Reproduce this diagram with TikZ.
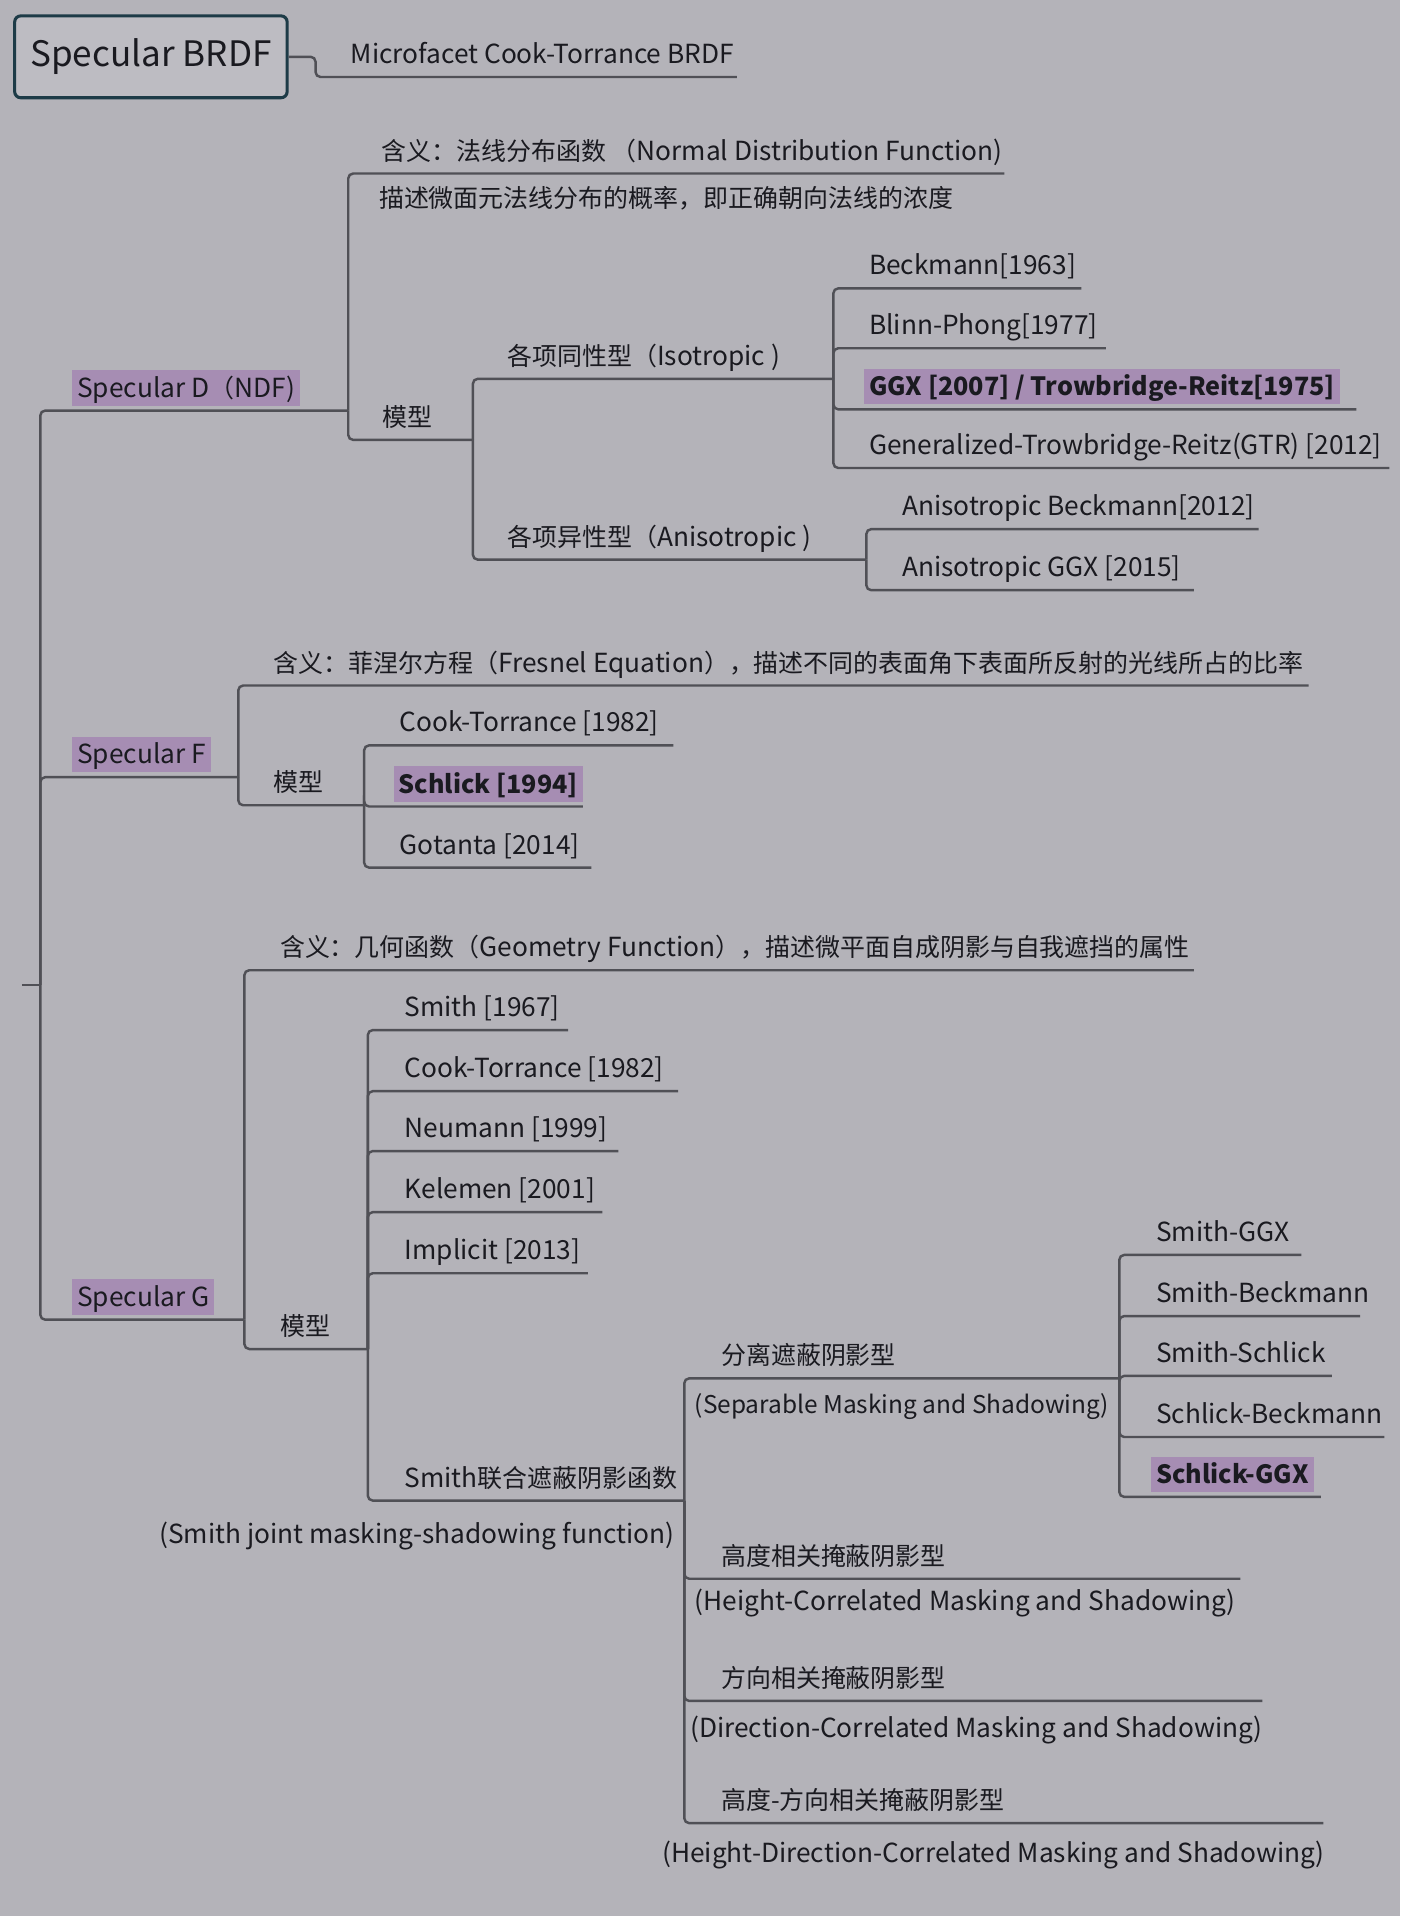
\documentclass[tikz,border=0pt]{standalone}
\usepackage{fontspec}
\setmainfont{Noto Sans CJK SC}
\newfontfamily\zhfam{Noto Sans CJK SC}[Scale=0.95]
\newcommand{\zhtxt}[1]{{\zhfam #1}}
\definecolor{bgcol}{HTML}{B4B3B9}
\definecolor{lcol}{HTML}{505056}
\definecolor{tcol}{HTML}{1A1A20}
\definecolor{hlcol}{HTML}{A68DB3}
\definecolor{rootbd}{HTML}{1D3B47}
\definecolor{rootbg}{HTML}{BDBCC2}
\tikzset{
  txt/.style={anchor=base west, inner sep=0pt, text=tcol, font=\fontsize{21.5}{26}\selectfont},
  ctxt/.style={txt, anchor=base},
  hl/.style={txt, fill=hlcol, inner xsep=4pt, inner ysep=0pt, text height=22pt, text depth=7pt},
  bhl/.style={hl, font=\fontsize{20.6}{25}\selectfont\bfseries},
  conn/.style={draw=lcol, line width=2pt, rounded corners=4pt},
  rootbox/.style={draw=rootbd, fill=rootbg, line width=2.5pt, rounded corners=5pt,
    minimum width=223pt, minimum height=67pt, text=tcol, font=\fontsize{28.7}{34}\selectfont}
}
\begin{document}
\begin{tikzpicture}[x=1pt,y=-1pt]
\fill[bgcol] (0,0) rectangle (1146,1568);
\useasboundingbox (0,0) rectangle (1146,1568);

% root
\node[rootbox] (root) at (123.5,46.5) {Specular BRDF};
\node[txt] (mc) at (287,52) {Microfacet Cook-Torrance BRDF};
\coordinate (uMC) at (603,63);
\draw[conn] (root.east) -- ++(22,0) |- (uMC);

% trunk
\coordinate (tick) at (18,806);
\coordinate (T) at (33,806);
\coordinate (Dj) at (285,336);
\coordinate (Fj) at (195,636);
\coordinate (Gj) at (200,1080);
\draw[conn] (tick) -- (T);
\draw[conn] (T) |- (Dj);
\draw[conn] (T) |- (Fj);
\draw[conn] (T) |- (Gj);

% ---------- Specular D ----------
\node[hl] (D) at (59,325) {Specular D\zhtxt{（}NDF)};
\node[txt] (ndf) at (312,131) {\zhtxt{含义：法线分布函数 （}Normal Distribution Function)};
\node[txt] (ndfdesc) at (310,170) {\zhtxt{描述微面元法线分布的概率，即正确朝向法线的浓度}};
\node[txt] (Dm) at (313,349) {\zhtxt{模型}};
\coordinate (uNDF) at (822,142);
\coordinate (DMj) at (387,360);
\draw[conn] (Dj) |- (uNDF);
\draw[conn] (Dj) |- (DMj);

\node[txt] (iso) at (415,299) {\zhtxt{各项同性型（}Isotropic )};
\node[txt] (ani) at (415,447) {\zhtxt{各项异性型（}Anisotropic )};
\coordinate (ISOj) at (682,310);
\coordinate (ANIj) at (709,458);
\draw[conn] (DMj) |- (ISOj);
\draw[conn] (DMj) |- (ANIj);

\node[txt] (beck) at (711,225) {Beckmann[1963]};
\node[txt] (blinn) at (711,274) {Blinn-Phong[1977]};
\node[bhl] (ggx) at (707,324) {GGX [2007] / Trowbridge-Reitz[1975]};
\node[txt] (gtr) at (711,372) {Generalized-Trowbridge-Reitz(GTR) [2012]};
\coordinate (uBeck) at (885,236);
\coordinate (uBlinn) at (905,285);
\coordinate (uGGX) at (1110,335);
\coordinate (uGTR) at (1137,383);
\draw[conn] (ISOj) |- (uBeck);
\draw[conn] (ISOj) |- (uBlinn);
\draw[conn] (ISOj) |- (uGGX);
\draw[conn] (ISOj) |- (uGTR);

\node[txt] (abeck) at (738,422) {Anisotropic Beckmann[2012]};
\node[txt] (aggx) at (738,472) {Anisotropic GGX [2015]};
\coordinate (uABeck) at (1030,433);
\coordinate (uAGGX) at (977,483);
\draw[conn] (ANIj) |- (uABeck);
\draw[conn] (ANIj) |- (uAGGX);

% ---------- Specular F ----------
\node[hl] (F) at (59,625) {Specular F};
\node[txt] (fmean) at (224,550) {\zhtxt{含义：菲涅尔方程（}Fresnel Equation\zhtxt{），描述不同的表面角下表面所反射的光线所占的比率}};
\node[txt] (Fm) at (224,648) {\zhtxt{模型}};
\coordinate (uFmean) at (1071,561);
\coordinate (FMj) at (298,659);
\draw[conn] (Fj) |- (uFmean);
\draw[conn] (Fj) |- (FMj);

\node[txt] (fct) at (327,599) {Cook-Torrance [1982]};
\node[bhl] (fsch) at (322,649) {Schlick [1994]};
\node[txt] (fgot) at (327,699) {Gotanta [2014]};
\coordinate (uFct) at (551,610);
\coordinate (uFsch) at (477,660);
\coordinate (uFgot) at (484,710);
\draw[conn] (FMj) |- (uFct);
\draw[conn] (FMj) |- (uFsch);
\draw[conn] (FMj) |- (uFgot);

% ---------- Specular G ----------
\node[hl] (G) at (59,1069) {Specular G};
\node[txt] (gmean) at (229,783) {\zhtxt{含义：几何函数（}Geometry Function\zhtxt{），描述微平面自成阴影与自我遮挡的属性}};
\node[txt] (Gm) at (229,1093) {\zhtxt{模型}};
\coordinate (uGmean) at (977,794);
\coordinate (GMj) at (301,1104);
\draw[conn] (Gj) |- (uGmean);
\draw[conn] (Gj) |- (GMj);

\node[txt] (gsmith) at (331,832) {Smith [1967]};
\node[txt] (gct) at (331,882) {Cook-Torrance [1982]};
\node[txt] (gneu) at (331,931) {Neumann [1999]};
\node[txt] (gkel) at (331,981) {Kelemen [2001]};
\node[txt] (gimp) at (331,1031) {Implicit [2013]};
\node[txt] (gsj) at (331,1217) {Smith\zhtxt{联合遮蔽阴影函数}};
\node[ctxt] (gsj2) at (341,1263) {(Smith joint masking-shadowing function)};
\coordinate (uGsmith) at (465,843);
\coordinate (uGct) at (555,893);
\coordinate (uGneu) at (506,942);
\coordinate (uGkel) at (493,992);
\coordinate (uGimp) at (481,1042);
\coordinate (SMj) at (560,1228);
\draw[conn] (GMj) |- (uGsmith);
\draw[conn] (GMj) |- (uGct);
\draw[conn] (GMj) |- (uGneu);
\draw[conn] (GMj) |- (uGkel);
\draw[conn] (GMj) |- (uGimp);
\draw[conn] (GMj) |- (SMj);

\node[txt] (sep) at (590,1117) {\zhtxt{分离遮蔽阴影型}};
\node[ctxt, font=\fontsize{20}{24}\selectfont] (sep2) at (738,1157) {(Separable Masking and Shadowing)};
\node[txt] (hc) at (590,1281) {\zhtxt{高度相关掩蔽阴影型}};
\node[ctxt] (hc2) at (790,1318) {(Height-Correlated Masking and Shadowing)};
\node[txt] (dc) at (590,1381) {\zhtxt{方向相关掩蔽阴影型}};
\node[ctxt] (dc2) at (799,1422) {(Direction-Correlated Masking and Shadowing)};
\node[txt] (hdc) at (590,1481) {\zhtxt{高度-方向相关掩蔽阴影型}};
\node[ctxt] (hdc2) at (813,1524) {(Height-Direction-Correlated Masking and Shadowing)};
\coordinate (SEPj) at (916,1128);
\coordinate (uHC) at (1015,1292);
\coordinate (uDC) at (1033,1392);
\coordinate (uHDC) at (1083,1492);
\draw[conn] (SMj) |- (SEPj);
\draw[conn] (SMj) |- (uHC);
\draw[conn] (SMj) |- (uDC);
\draw[conn] (SMj) |- (uHDC);

\node[txt] (sggx) at (946,1016) {Smith-GGX};
\node[txt] (sbeck) at (946,1066) {Smith-Beckmann};
\node[txt] (ssch) at (946,1115) {Smith-Schlick};
\node[txt] (schb) at (946,1165) {Schlick-Beckmann};
\node[bhl] (schg) at (942,1214) {Schlick-GGX};
\coordinate (uSggx) at (1065,1027);
\coordinate (uSbeck) at (1113,1077);
\coordinate (uSsch) at (1090,1126);
\coordinate (uSchb) at (1133,1176);
\coordinate (uSchg) at (1081,1225);
\draw[conn] (SEPj) |- (uSggx);
\draw[conn] (SEPj) |- (uSbeck);
\draw[conn] (SEPj) |- (uSsch);
\draw[conn] (SEPj) |- (uSchb);
\draw[conn] (SEPj) |- (uSchg);
\end{tikzpicture}
\end{document}
